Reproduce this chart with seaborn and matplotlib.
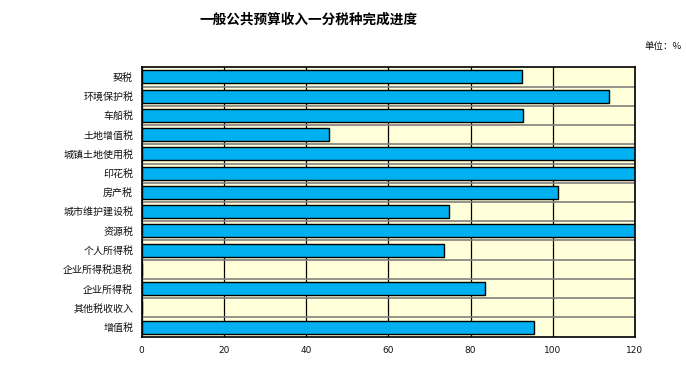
import matplotlib
matplotlib.use("Agg")
import matplotlib.pyplot as plt
import seaborn as sns
import pandas as pd
from matplotlib.ticker import FixedLocator

categories = ["契税", "环境保护税", "车船税", "土地增值税", "城镇土地使用税", "印花税",
              "房产税", "城市维护建设税", "资源税", "个人所得税", "企业所得税退税",
              "企业所得税", "其他税收收入", "增值税"]
values = [92.5, 113.7, 92.8, 45.5, 130.0, 130.0, 101.3, 74.8, 130.0, 73.6, 0.0, 83.5, 0.0, 95.5]
x_ticks = [0, 20, 40, 60, 80, 100, 120]
title = "一般公共预算收入一分税种完成进度"
unit = "单位：%"

sns.set_theme(style="white")
plt.rcParams['font.family'] = ['Noto Sans CJK SC', 'DejaVu Sans']

df = pd.DataFrame({"税种": categories, "完成进度": values})

fig = plt.figure(figsize=(6.86, 3.78), dpi=100)
ax = fig.add_axes([141.5 / 686, 1 - 336.7 / 378, (635 - 141.5) / 686, (336.7 - 67.3) / 378])
ax.set_facecolor("#FFFFD9")

sns.barplot(data=df, x="完成进度", y="税种", order=categories, orient="h",
            color="#00B0F0", saturation=1, edgecolor="black", linewidth=1.0,
            width=0.68, ax=ax, zorder=3)

ax.set_xlim(0, 120)
ax.set_ylim(len(categories) - 0.5, -0.5)
ax.xaxis.set_major_locator(FixedLocator(x_ticks))
ax.set_xticklabels([str(t) for t in x_ticks], fontsize=6.5, family='DejaVu Sans', color='#111111')
ax.yaxis.set_minor_locator(FixedLocator([i + 0.5 for i in range(len(categories) - 1)]))
ax.tick_params(axis='y', which='both', length=0, labelsize=7.2, pad=6, labelcolor='#111111')
ax.tick_params(axis='x', which='both', length=0, pad=7)

ax.grid(axis='x', which='major', color='black', linewidth=0.9, zorder=1)
ax.grid(axis='y', which='minor', color='#808080', linewidth=1.2, zorder=1)
ax.grid(axis='y', which='major', visible=False)
ax.set_axisbelow(True)

ax.set_xlabel("")
ax.set_ylabel("")
for s in ax.spines.values():
    s.set_visible(True)
    s.set_color('black')
    s.set_linewidth(1.2)
    s.set_zorder(5)

fig.text(308 / 686, 1 - 20 / 378, title, ha='center', va='center', fontsize=9.8,
         fontweight='bold', color='black')
fig.text(682 / 686, 1 - 46 / 378, unit, ha='right', va='center', fontsize=6.8, color='#111111')

fig.savefig("out.png", dpi=100)
